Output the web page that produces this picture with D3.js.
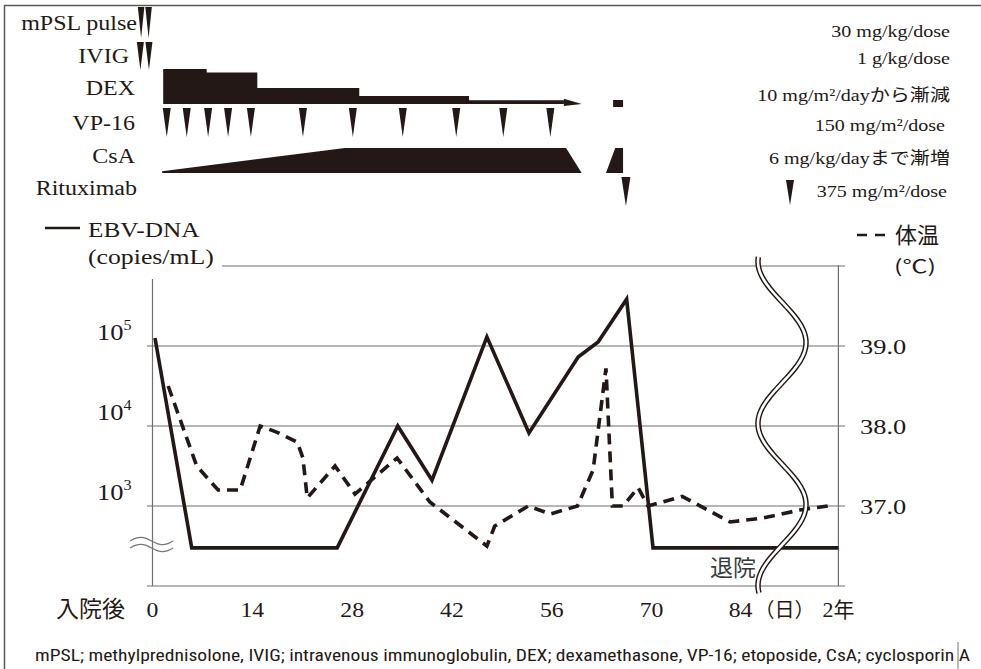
<!DOCTYPE html>
<html><head><meta charset="utf-8">
<script src="https://cdn.jsdelivr.net/npm/d3@7"></script>
<style>
body{margin:0;background:#fff;}
svg{display:block;}
</style></head><body>
<svg id="c" width="981" height="669"></svg>
<script>
// ---------------- data ----------------
const xTickDays = [0, 14, 28, 42, 56, 70, 84];
const xTickLabels = ["0", "14", "28", "42", "56", "70", "84"];
const twoYearDay = 96.2;            // display position of the "2年" point
const twoYearLabel = "2年";
const ebvTickValues = [1e3, 1e4, 1e5];
const ebvTickExponents = ["3", "4", "5"];
const tempTickValues = [37, 38, 39];
const tempTickLabels = ["37.0", "38.0", "39.0"];
const tempGridValues = [37, 38, 39, 40];
const undetectable = 300;           // plotted level for "below detection"

const ebvDays   = [0.35, 5.5, 25.9, 34.4, 39.2, 46.9, 52.8, 59.7, 62.5, 66.5, 70.2, twoYearDay];
const ebvCopies = [126000, undetectable, undetectable, 10000, 2100, 130000, 8200, 73000, 112000, 385000, undetectable, undetectable];

const tempDays   = [2.2, 6.2, 9.2, 12.3, 15.1, 17.5, 20.3, 21.1, 21.7, 25.6, 28.4, 34.3, 38.9, 46.9, 48.0, 52.7, 55.8, 59.6, 61.8, 63.6, 64.5, 66.0, 68.1, 69.5, 74.3, 81.0, 85.6, 90.8, 94.7];
const tempValues = [38.5, 37.5, 37.2, 37.2, 38.0, 37.92, 37.8, 37.6, 37.1, 37.5, 37.15, 37.6, 37.05, 36.5, 36.75, 37.0, 36.9, 37.0, 37.45, 38.72, 37.0, 37.0, 37.23, 37.0, 37.12, 36.8, 36.85, 36.95, 37.0];

const drugNames = ["mPSL pulse", "IVIG", "DEX", "VP-16", "CsA", "Rituximab"];
const drugDoses = ["30 mg/kg/dose", "1 g/kg/dose", "10 mg/m²/dayから漸減", "150 mg/m²/dose", "6 mg/kg/dayまで漸増", "375 mg/m²/dose"];
const mpslDays = [-1.6, -0.55];
const ivigDays = [-1.7, -0.5];
const vp16Days = [2.0, 4.8, 7.8, 10.6, 13.8, 21.1, 28.1, 35.1, 42.6, 49.2, 55.8];
const rituximabDays = [66.4];
const dexStepStart = [1.5, 7.6, 14.7, 29.0, 44.4];
const dexStepEnd   = [7.6, 14.7, 29.0, 44.4, 57.7];
const dexStepDose  = [10, 9, 4.6, 2.3, 1.1];
const dexArrowEnd = 60.2;
const dexRestartDays = [64.6, 66.0];
const dexRestartDose = 2;
const csaDays = [1.35, 27.0, 58.0, 60.2];
const csaDose = [0.4, 6, 6, 0];
const csaRestartDays = [63.6, 64.9, 66.0, 66.0];
const csaRestartDose = [0, 6, 6, 0];
const footnote = "mPSL; methylprednisolone, IVIG; intravenous immunoglobulin, DEX; dexamethasone, VP-16; etoposide, CsA; cyclosporin A";

// ---------------- setup ----------------
const INK = "#231815";
const GRID = "#6f6f6f";
const SERIF = "'Liberation Serif','Noto Sans CJK JP',serif";
const CJK = "'Noto Sans CJK JP',sans-serif";
const svg = d3.select("#c");

function stretch(sel, k) {
  sel.each(function () {
    const L = this.getComputedTextLength();
    d3.select(this).attr("textLength", L * k).attr("lengthAdjust", "spacingAndGlyphs");
  });
  return sel;
}

const x = d3.scaleLinear().domain([0, twoYearDay]).range([152.5, 838.4]);
const yEbv = d3.scaleLog().domain([100, 1e6]).range([586, 266]);
const yTemp = d3.scaleLinear().domain([36, 40]).range([586, 266]);
const dexH = d3.scaleLinear().domain([0, 10]).range([0, 35]);
const csaH = d3.scaleLinear().domain([0, 6]).range([0, 25]);

// frame
svg.append("line").attr("x1", 4).attr("x2", 981).attr("y1", 5.5).attr("y2", 5.5).attr("stroke", "#595757").attr("stroke-width", 1.5);
svg.append("line").attr("x1", 4.5).attr("x2", 4.5).attr("y1", 5).attr("y2", 669).attr("stroke", "#595757").attr("stroke-width", 1.5);

// ---------------- treatment panel ----------------
const labelRight = [137, 129, 135, 135, 135, 137];
const labelBase = [30, 63, 95, 130, 163, 195];
stretch(svg.append("g").selectAll("text").data(drugNames).join("text")
  .attr("x", (d, i) => labelRight[i]).attr("y", (d, i) => labelBase[i])
  .attr("text-anchor", "end").attr("font-family", SERIF).attr("font-size", 20)
  .attr("fill", INK).text(d => d), 1.2);

const doseBase = [37, 64, 101, 131, 164, 197];
const doseRight = [950, 950, 950, 945, 950, 947];
stretch(svg.append("g").selectAll("text").data(drugDoses).join("text")
  .attr("x", (d, i) => doseRight[i]).attr("y", (d, i) => doseBase[i])
  .attr("text-anchor", "end").attr("font-family", SERIF).attr("font-size", 17)
  .attr("fill", INK).text(d => d), 1.18);

function tri(cx, top, w, h) {
  return `M${cx - w / 2},${top}L${cx + w / 2},${top}L${cx},${top + h}Z`;
}
const triRows = [
  {days: mpslDays, top: 7, h: 31, w: 6.5},
  {days: ivigDays, top: 42, h: 28, w: 7},
  {days: vp16Days, top: 108, h: 29, w: 8},
  {days: rituximabDays, top: 177, h: 29, w: 9}
];
triRows.forEach(r => {
  svg.append("g").selectAll("path").data(r.days).join("path")
    .attr("d", d => tri(x(d), r.top, r.w, r.h)).attr("fill", INK);
});
// legend triangle for rituximab
svg.append("path").attr("d", tri(790, 180, 8, 25)).attr("fill", INK);

// DEX steps
const dexBase = 104;
const dexPts = [];
dexStepStart.forEach((s, i) => {
  dexPts.push([x(s), dexBase - dexH(dexStepDose[i])]);
  dexPts.push([x(dexStepEnd[i]), dexBase - dexH(dexStepDose[i])]);
});
const dexPath = `M${x(dexStepStart[0])},${dexBase}` + dexPts.map(p => `L${p[0]},${p[1]}`).join("") +
  `L${x(dexStepEnd[4])},${dexBase}Z`;
svg.append("path").attr("d", dexPath).attr("fill", INK);
// arrowhead
const aStart = x(dexStepEnd[4]);
svg.append("path").attr("d", `M${aStart},${dexBase - dexH(1.5)}L${x(dexArrowEnd)},${dexBase}L${aStart},${dexBase + 2}Z`).attr("fill", INK);
// restart block
svg.append("rect").attr("x", x(dexRestartDays[0])).attr("width", x(dexRestartDays[1]) - x(dexRestartDays[0]))
  .attr("y", dexBase + 3 - dexH(dexRestartDose)).attr("height", dexH(dexRestartDose)).attr("fill", INK);

// CsA
const csaBase = 173;
const csaArea = d3.area().x(d => x(d[0])).y0(csaBase).y1(d => csaBase - csaH(d[1]));
svg.append("path").attr("d", csaArea(csaDays.map((d, i) => [d, csaDose[i]]))).attr("fill", INK);
svg.append("path").attr("d", csaArea(csaRestartDays.map((d, i) => [d, csaRestartDose[i]]))).attr("fill", INK);

// ---------------- main chart ----------------
// gridlines
svg.append("g").selectAll("line").data(tempGridValues).join("line")
  .attr("x1", d => d === 40 ? 222 : 147).attr("x2", 845)
  .attr("y1", d => yTemp(d)).attr("y2", d => yTemp(d))
  .attr("stroke", GRID).attr("stroke-width", 1.2);
// axes
svg.append("line").attr("x1", x(0)).attr("x2", x(0)).attr("y1", 279).attr("y2", 586).attr("stroke", GRID).attr("stroke-width", 1.2);
svg.append("line").attr("x1", x(twoYearDay)).attr("x2", x(twoYearDay)).attr("y1", 265).attr("y2", 586).attr("stroke", GRID).attr("stroke-width", 1.2);
svg.append("line").attr("x1", 147).attr("x2", 845).attr("y1", 586).attr("y2", 586).attr("stroke", GRID).attr("stroke-width", 1.2);

// left tick labels (10^n)
const lt = svg.append("g").selectAll("text").data(ebvTickValues).join("text")
  .attr("x", 97).attr("y", d => yEbv(d) - 6)
  .attr("font-family", SERIF).attr("font-size", 23).attr("fill", INK);
lt.append("tspan").text("10");
lt.append("tspan").attr("dy", -10).attr("font-size", 14).text((d, i) => ebvTickExponents[i]);
stretch(lt, 1.15);

// right tick labels
stretch(svg.append("g").selectAll("text").data(tempTickValues).join("text")
  .attr("x", 860).attr("y", d => yTemp(d) + 8)
  .attr("font-family", SERIF).attr("font-size", 22).attr("fill", INK)
  .text((d, i) => tempTickLabels[i]), 1.2);

// x tick labels
stretch(svg.append("g").selectAll("text").data(xTickDays).join("text")
  .attr("x", d => x(d)).attr("y", 617)
  .attr("text-anchor", d => d === 84 ? "end" : "middle")
  .attr("dx", d => d === 84 ? 1 : 0)
  .attr("font-family", SERIF).attr("font-size", 22).attr("fill", INK)
  .text((d, i) => xTickLabels[i]), 1.08);
svg.append("text").attr("x", x(84) + 3).attr("y", 617).attr("font-family", CJK).attr("font-size", 20).attr("fill", INK)
  .attr("textLength", 60).attr("lengthAdjust", "spacingAndGlyphs").text("（日）");
const ty = svg.append("text").attr("x", x(twoYearDay)).attr("y", 617).attr("text-anchor", "middle")
  .attr("font-family", SERIF).attr("font-size", 22).attr("fill", INK);
ty.append("tspan").text(twoYearLabel.slice(0, 1));
ty.append("tspan").attr("font-family", CJK).attr("font-size", 21).text(twoYearLabel.slice(1));
svg.append("text").attr("x", 125).attr("y", 617).attr("text-anchor", "end")
  .attr("font-family", CJK).attr("font-size", 23).attr("fill", INK).text("入院後");

// axis titles / legends
svg.append("line").attr("x1", 45).attr("x2", 80).attr("y1", 228).attr("y2", 228).attr("stroke", INK).attr("stroke-width", 2.5);
stretch(svg.append("text").attr("x", 88).attr("y", 237).attr("font-family", SERIF).attr("font-size", 22).attr("fill", INK).text("EBV-DNA"), 1.15);
stretch(svg.append("text").attr("x", 88).attr("y", 264).attr("font-family", SERIF).attr("font-size", 22).attr("fill", INK).text("(copies/mL)"), 1.17);
svg.append("line").attr("x1", 857).attr("x2", 885).attr("y1", 235).attr("y2", 235).attr("stroke", INK).attr("stroke-width", 2.5).attr("stroke-dasharray", "10,8");
svg.append("text").attr("x", 895).attr("y", 243).attr("font-family", CJK).attr("font-size", 22).attr("fill", INK).text("体温");
svg.append("text").attr("x", 894).attr("y", 273).attr("font-family", CJK).attr("font-size", 18).attr("fill", INK)
  .attr("textLength", 42).attr("lengthAdjust", "spacingAndGlyphs").text("(℃)");

// break mark on left axis
const tilde = d3.line().curve(d3.curveBasis);
[0, 7].forEach(off => {
  const pts = d3.range(0, 9).map(k => [130 + k * 5.4, 541 + off + 4 * Math.sin(k / 8 * 2 * Math.PI + Math.PI)]);
  svg.append("path").attr("d", tilde(pts)).attr("fill", "none").attr("stroke", "#777").attr("stroke-width", 1.3);
});

// temperature line
const tempLine = d3.line().x(d => x(d)).y((d, i) => yTemp(tempValues[i]));
svg.append("path").attr("d", tempLine(tempDays)).attr("fill", "none").attr("stroke", INK)
  .attr("stroke-width", 3.6).attr("stroke-dasharray", "11,7");

// EBV line
const ebvLine = d3.line().x(d => x(d)).y((d, i) => yEbv(ebvCopies[i]));
svg.append("path").attr("d", ebvLine(ebvDays)).attr("fill", "none").attr("stroke", INK)
  .attr("stroke-width", 3.6).attr("stroke-linejoin", "miter");

// discharge label
svg.append("text").attr("x", 710).attr("y", 576).attr("font-family", CJK).attr("font-size", 23).attr("fill", "#3a3a3a").text("退院");

// wavy time-axis break
const breakCx = 782, breakAmp = 24, breakPeriod = 162, breakY0 = 302;
const wavePts = d3.range(257, 594, 2).map(yy => [breakCx + breakAmp * Math.sin(2 * Math.PI * (yy - breakY0) / breakPeriod), yy]);
const waveLine = d3.line().curve(d3.curveCatmullRom);
svg.append("path").attr("d", waveLine(wavePts)).attr("fill", "none").attr("stroke", INK).attr("stroke-width", 5.5);
svg.append("path").attr("d", waveLine(wavePts)).attr("fill", "none").attr("stroke", "#fff").attr("stroke-width", 2.6);

// footnote
svg.append("text").attr("x", 35).attr("y", 661)
  .attr("font-family", "'Liberation Sans Narrow','Roboto Condensed','Noto Sans',sans-serif")
  .attr("font-size", 16).attr("fill", INK)
  .attr("textLength", 935).attr("lengthAdjust", "spacingAndGlyphs").text(footnote);
svg.append("line").attr("x1", 958).attr("x2", 958).attr("y1", 642).attr("y2", 669).attr("stroke", "#777").attr("stroke-width", 1);
</script>
</body></html>
